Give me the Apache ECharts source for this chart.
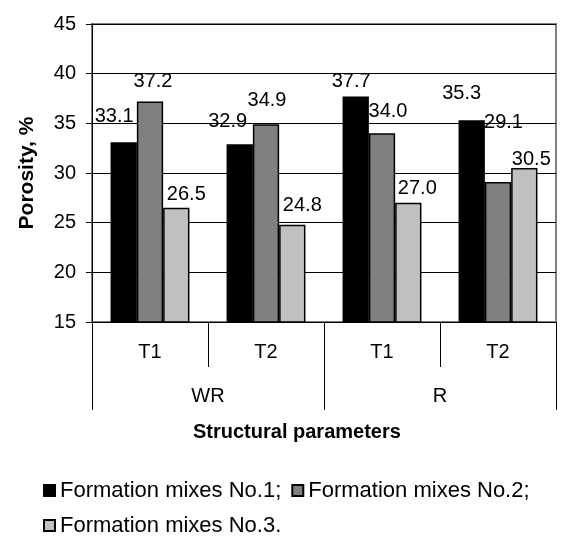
<!DOCTYPE html>
<html>
<head>
<meta charset="utf-8">
<script src="https://cdn.jsdelivr.net/npm/echarts@6/dist/echarts.min.js"></script>
<style>
  html, body { margin: 0; padding: 0; background: #fff; }
  #chart { width: 561px; height: 536px; }
</style>
</head>
<body>
<div id="chart"></div>
<script>
// Porosity of formation mixes by structural parameters
const subCategories = ['T1', 'T2', 'T1', 'T2'];
const groupCategories = ['WR', 'R'];
const seriesNames = ['Formation mixes No.1;', 'Formation mixes No.2;', 'Formation mixes No.3.'];
const mix1 = [33.1, 32.9, 37.7, 35.3];
const mix2 = [37.2, 34.9, 34.0, 29.1];
const mix3 = [26.5, 24.8, 27.0, 30.5];
const yTicks = { min: 15, max: 45, step: 5 };

// Hand-placed value label nudges [dx, dy] per bar
const labelNudge = [
  [[-9.5, -16], [-12, -13], [-4.5, -5.5], [-10, -16.5]],
  [[3, -9.5], [1, -13.5], [6, -11.5], [5.5, -49]],
  [[10, -3], [10, -9.5], [9, -4], [7, 1.5]]
];

const fills = ['#000000', '#808080', '#c0c0c0'];
const FONT = 'Liberation Sans, Arial, sans-serif';

const chart = echarts.init(document.getElementById('chart'), null, { renderer: 'canvas' });

function buildSeries(values, idx) {
  return {
    name: seriesNames[idx],
    type: 'bar',
    xAxisIndex: 0,
    barGap: '0%',
    barCategoryGap: '32%',
    itemStyle: { color: fills[idx], borderColor: '#000', borderWidth: 1.5 },
    data: values.map((v, i) => ({
      value: v,
      label: { offset: labelNudge[idx][i] }
    })),
    label: {
      show: true,
      position: 'top',
      distance: 0,
      color: '#000',
      fontFamily: FONT,
      fontSize: 20,
      lineHeight: 20,
      formatter: p => p.value.toFixed(1)
    },
    emphasis: { disabled: true }
  };
}

chart.setOption({
  animation: false,
  backgroundColor: '#fff',
  grid: {
    left: 92, right: 5, top: 24, bottom: 214,
    show: true, borderColor: '#808080', borderWidth: 2, backgroundColor: 'transparent'
  },
  legend: {
    left: 38, top: 473, width: 500,
    itemWidth: 11, itemHeight: 11, itemGap: 10,
    icon: 'rect',
    textStyle: { fontFamily: FONT, fontSize: 22, lineHeight: 25, color: '#000' },
    data: seriesNames
  },
  graphic: [{
    type: 'text', left: 193, top: 422,
    style: { text: 'Structural parameters', fontFamily: FONT, fontSize: 20, fontWeight: 'bold', fill: '#000' }
  }],
  xAxis: [{
    type: 'category',
    data: subCategories,
    position: 'bottom',
    axisLine: { show: true, lineStyle: { color: '#000', width: 1 } },
    axisTick: { show: true, length: 45, interval: 0, alignWithLabel: false, lineStyle: { color: '#000' } },
    axisLabel: { margin: 20, color: '#000', fontFamily: FONT, fontSize: 20 },
    splitLine: { show: false }
  }, {
    type: 'category',
    data: groupCategories,
    position: 'bottom',
    axisLine: { show: false },
    axisTick: { show: true, length: 88, interval: 0, alignWithLabel: false, lineStyle: { color: '#000' } },
    axisLabel: { margin: 64, color: '#000', fontFamily: FONT, fontSize: 20 },
    splitLine: { show: false }
  }],
  yAxis: {
    type: 'value',
    min: yTicks.min, max: yTicks.max, interval: yTicks.step,
    name: 'Porosity, %',
    nameLocation: 'middle',
    nameGap: 54,
    nameRotate: 90,
    nameTextStyle: { fontFamily: FONT, fontSize: 21, fontWeight: 'bold', color: '#000' },
    axisLine: { show: true, lineStyle: { color: '#000', width: 1 } },
    axisTick: { show: true, length: 6, lineStyle: { color: '#000' } },
    axisLabel: { margin: 16, color: '#000', fontFamily: FONT, fontSize: 20 },
    splitLine: { show: true, lineStyle: { color: '#000', width: 1 } }
  },
  series: [buildSeries(mix1, 0), buildSeries(mix2, 1), buildSeries(mix3, 2)]
});
</script>
</body>
</html>
